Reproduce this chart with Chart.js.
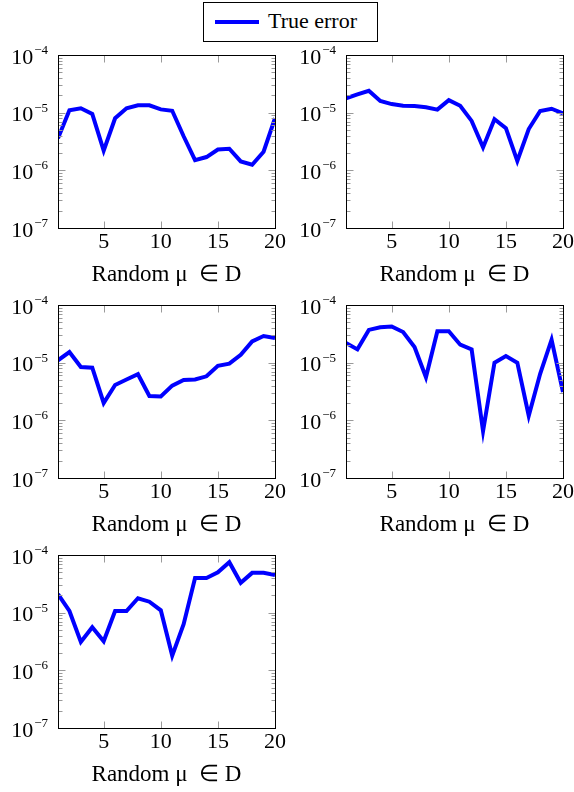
<!DOCTYPE html>
<html>
<head>
<meta charset="utf-8">
<script src="https://cdn.jsdelivr.net/npm/chart.js@4.4.1/dist/chart.umd.min.js"></script>
<style>
  body { margin: 0; width: 574px; height: 792px; position: relative; overflow: hidden; background: #fff; font-family: "Liberation Serif", serif; }
  .panel { position: absolute; width: 290px; height: 250px; }
  .legend { position: absolute; left: 203px; top: 2px; width: 173px; height: 38px; border: 1px solid #000; background: #fff; }
  .legend .swatch { position: absolute; left: 11px; top: 17px; width: 44px; height: 4px; background: #0000ff; }
  .legend .label { position: absolute; left: 64px; top: 4px; font-size: 22px; line-height: 28px; color: #000; white-space: nowrap; }
</style>
</head>
<body>
<div class="legend"><span class="swatch"></span><span class="label">True error</span></div>
<canvas id="panel1" class="panel" width="290" height="250" style="left:0;top:40px"></canvas>
<canvas id="panel2" class="panel" width="290" height="250" style="left:288px;top:40px"></canvas>
<canvas id="panel3" class="panel" width="290" height="250" style="left:0;top:290px"></canvas>
<canvas id="panel4" class="panel" width="290" height="250" style="left:288px;top:290px"></canvas>
<canvas id="panel5" class="panel" width="290" height="250" style="left:0;top:540px"></canvas>
<script>
const xValues = [1, 2, 3, 4, 5, 6, 7, 8, 9, 10, 11, 12, 13, 14, 15, 16, 17, 18, 19, 20];
const xTicks = [5, 10, 15, 20];
const yTicks = [1e-7, 1e-6, 1e-5, 1e-4];
const xTitle = "Random \u03bc  \u2208 D";

const errors1 = [3.6e-6, 1.1e-5, 1.19e-5, 9.5e-6, 2.2e-6, 8.0e-6, 1.19e-5, 1.34e-5, 1.34e-5, 1.14e-5, 1.08e-5, 3.9e-6, 1.5e-6, 1.7e-6, 2.3e-6, 2.37e-6, 1.43e-6, 1.25e-6, 2.1e-6, 8.0e-6];
const errors2 = [1.77e-5, 2.07e-5, 2.4e-5, 1.59e-5, 1.41e-5, 1.32e-5, 1.3e-5, 1.24e-5, 1.13e-5, 1.65e-5, 1.32e-5, 7.2e-6, 2.5e-6, 7.7e-6, 5.4e-6, 1.45e-6, 5.2e-6, 1.07e-5, 1.17e-5, 9.7e-6];
const errors3 = [1.1e-5, 1.53e-5, 8.4e-6, 8.2e-6, 2.0e-6, 4.1e-6, 5.1e-6, 6.3e-6, 2.65e-6, 2.6e-6, 4.0e-6, 5.0e-6, 5.1e-6, 5.8e-6, 8.8e-6, 9.6e-6, 1.37e-5, 2.34e-5, 2.9e-5, 2.67e-5];
const errors4 = [2.2e-5, 1.7e-5, 3.7e-5, 4.1e-5, 4.25e-5, 3.4e-5, 1.87e-5, 5.6e-6, 3.5e-5, 3.5e-5, 2.05e-5, 1.7e-5, 6.5e-7, 1.0e-5, 1.3e-5, 1.0e-5, 1.2e-6, 6.4e-6, 2.5e-5, 3.1e-6];
const errors5 = [2.1e-5, 1.07e-5, 3.1e-6, 5.6e-6, 3.2e-6, 1.07e-5, 1.07e-5, 1.78e-5, 1.55e-5, 1.1e-5, 1.8e-6, 6.3e-6, 4.0e-5, 4.0e-5, 5.0e-5, 7.5e-5, 3.3e-5, 4.9e-5, 4.9e-5, 4.5e-5];

const FONT = "Liberation Serif";

// frame, inward ticks on all four sides, and 10^k labels
const frameTicksPlugin = {
  id: "frameTicks",
  afterDraw(chart) {
    const { ctx, chartArea: a, scales: { x, y } } = chart;
    const left = Math.round(a.left) + 0.5;
    const right = Math.round(a.right) + 0.5;
    const top = Math.round(a.top) + 0.5;
    const bottom = Math.round(a.bottom) + 0.5;

    ctx.save();
    ctx.strokeStyle = "#9a9a9a";
    ctx.lineWidth = 1;
    ctx.beginPath();
    xTicks.forEach((v) => {
      const px = Math.round(x.getPixelForValue(v)) + 0.5;
      ctx.moveTo(px, bottom); ctx.lineTo(px, bottom - 7);
      ctx.moveTo(px, top); ctx.lineTo(px, top + 7);
    });
    yTicks.forEach((v, i) => {
      const py = Math.round(y.getPixelForValue(v)) + 0.5;
      ctx.moveTo(left, py); ctx.lineTo(left + 7, py);
      ctx.moveTo(right, py); ctx.lineTo(right - 7, py);
      if (i < yTicks.length - 1) {
        for (let m = 2; m <= 9; m++) {
          const my = Math.round(y.getPixelForValue(v * m)) + 0.5;
          ctx.moveTo(left, my); ctx.lineTo(left + 4, my);
          ctx.moveTo(right, my); ctx.lineTo(right - 4, my);
        }
      }
    });
    ctx.stroke();

    ctx.strokeStyle = "#000";
    ctx.strokeRect(left, top, right - left, bottom - top);

    ctx.fillStyle = "#000";
    ctx.textBaseline = "alphabetic";
    yTicks.forEach((v) => {
      const py = y.getPixelForValue(v);
      const exp = "\u2212" + Math.abs(Math.round(Math.log10(v)));
      ctx.font = `13px "${FONT}"`;
      const wExp = ctx.measureText(exp).width;
      ctx.font = `22px "${FONT}"`;
      const wBase = ctx.measureText("10").width;
      const end = a.left - 10;
      ctx.fillText("10", end - wExp - wBase - 1, py + 8.5);
      ctx.font = `13px "${FONT}"`;
      ctx.fillText(exp, end - wExp, py - 1);
    });
    ctx.restore();
  }
};

document.addEventListener("DOMContentLoaded", () => {
  [errors1, errors2, errors3, errors4, errors5].forEach((values, i) => {
    buildPanel(document.getElementById(`panel${i + 1}`), values);
  });
});

function buildPanel(canvas, values) {
  return new Chart(canvas, {
    type: "line",
    data: {
      labels: xValues,
      datasets: [{
        label: "True error",
        data: xValues.map((x, i) => ({ x, y: values[i] })),
        borderColor: "#0000ff",
        backgroundColor: "#0000ff",
        borderWidth: 4,
        borderJoinStyle: "miter",
        pointRadius: 0,
        tension: 0,
        clip: 0
      }]
    },
    options: {
      responsive: false,
      animation: false,
      devicePixelRatio: 1,
      layout: { padding: { left: 0, top: 15, right: 15, bottom: 0 } },
      plugins: { legend: { display: false }, tooltip: { enabled: false } },
      scales: {
        x: {
          type: "linear",
          min: 1,
          max: 20,
          afterBuildTicks(scale) { scale.ticks = xTicks.map((value) => ({ value })); },
          afterFit(scale) { scale.height = 62; },
          grid: { display: false, drawTicks: false },
          border: { display: false },
          ticks: { padding: 1, color: "#000", maxRotation: 0, autoSkip: false, font: { family: FONT, size: 22 } },
          title: { display: true, text: xTitle, color: "#000", font: { family: FONT, size: 23 }, padding: { top: 0, bottom: 1 } }
        },
        y: {
          type: "logarithmic",
          min: 1e-7,
          max: 1e-4,
          afterBuildTicks(scale) { scale.ticks = yTicks.map((value) => ({ value })); },
          afterFit(scale) { scale.width = 58; },
          grid: { display: false },
          border: { display: false },
          ticks: { display: false }
        }
      }
    },
    plugins: [frameTicksPlugin]
  });
}
</script>
</body>
</html>
